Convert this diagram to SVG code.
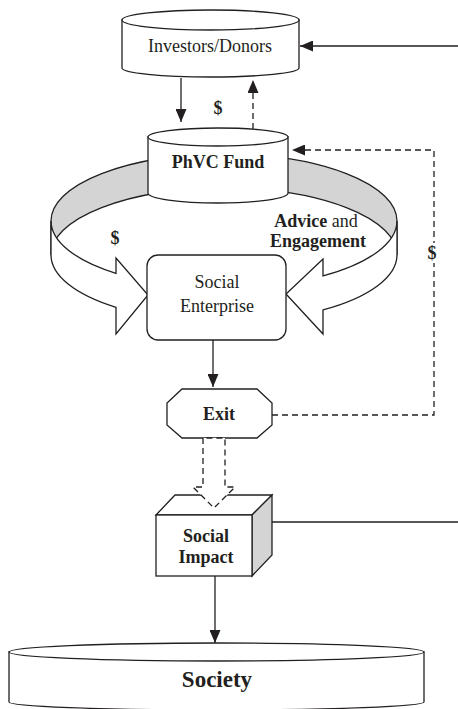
<svg xmlns="http://www.w3.org/2000/svg" width="458" height="709" viewBox="0 0 458 709">
<style>
.s{fill:#fff;stroke:#231f20;stroke-width:1.3}
.g{fill:#d4d4d4;stroke:#231f20;stroke-width:1.3}
.c{fill:none;stroke:#231f20;stroke-width:1.3}
.d{stroke-dasharray:6,4}
text{font-family:"Liberation Serif","Times New Roman",serif;font-size:18px;fill:#231f20;text-anchor:middle}
.b{font-weight:bold}
</style>
<defs>
<marker id="ah" markerUnits="userSpaceOnUse" markerWidth="14" markerHeight="11" refX="13" refY="5.5" orient="auto">
<path d="M0,0 L13,5.5 L0,11 Z" fill="#231f20"/>
</marker>
</defs>
<rect width="458" height="709" fill="#fff"/>

<g id="ribbon-back">
<path class="g" d="M51,221 A173,67 0 0 1 397,221 L397,255 A173,67 0 0 0 51,255 Z"/>
</g>

<g id="investors">
<path class="s" d="M122,20 V68 A88.5,9 0 0 0 299,68 V20 Z"/>
<ellipse class="s" cx="210.5" cy="20" rx="88.5" ry="10"/>
<text x="210" y="52">Investors/Donors</text>
</g>

<g id="phvc">
<path class="s" d="M148,137 V193 A70,10 0 0 0 288,193 V137 Z"/>
<ellipse class="s" cx="218" cy="137" rx="70" ry="9"/>
<text class="b" x="218" y="168">PhVC Fund</text>
</g>

<g id="ribbon-front">
<path class="s" d="M51,221 A173,67 0 0 0 116,273.3 L116,258 L148,295 L116,334 L116,307.3 A173,67 0 0 1 51,255 Z"/>
<path class="s" d="M397,221 A173,67 0 0 1 323,275.9 L323,259 L286,294 L323,334 L323,309.9 A173,67 0 0 0 397,255 Z"/>
</g>

<g id="social-enterprise">
<rect class="s" x="147" y="255" width="139" height="85" rx="11"/>
<text x="217" y="288">Social</text>
<text x="217" y="312">Enterprise</text>
</g>

<g id="exit">
<polygon class="s" points="182,389 257,389 272,403 272,425 257,438 182,438 167,425 167,403"/>
<text class="b" x="219" y="420">Exit</text>
</g>

<g id="social-impact">
<polygon class="s" points="156,515 175,495 272,495 252,515"/>
<polygon class="g" points="252,515 272,495 272,555 252,576"/>
<rect class="s" x="156" y="515" width="96" height="61"/>
<text class="b" x="206" y="542">Social</text>
<text class="b" x="206" y="563">Impact</text>
</g>

<g id="society">
<path class="s" d="M9,652 V702 A207.5,8 0 0 0 424,702 V652 Z"/>
<ellipse class="s" cx="216.5" cy="652" rx="207.5" ry="9"/>
<text class="b" x="217" y="687" style="font-size:23px">Society</text>
</g>

<g id="connectors">
<line class="c" x1="458" y1="46" x2="300" y2="46" marker-end="url(#ah)"/>
<line class="c" x1="181" y1="78" x2="181" y2="122" marker-end="url(#ah)"/>
<line class="c d" x1="253" y1="129" x2="253" y2="80" marker-end="url(#ah)"/>
<path class="c d" d="M272,415 H434 V150 H292" marker-end="url(#ah)"/>
<line class="c" x1="213" y1="340" x2="213" y2="387" marker-end="url(#ah)"/>
<polygon class="s d" points="203,438 203,487 193,487 214,508 235,487 225,487 225,438"/>
<line class="c" x1="272" y1="522" x2="458" y2="522"/>
<line class="c" x1="215" y1="576" x2="215" y2="643" marker-end="url(#ah)"/>
</g>

<g id="labels">
<text class="b" x="218" y="114">$</text>
<text class="b" x="115" y="244">$</text>
<rect x="427" y="243" width="11" height="20" fill="#fff"/>
<text class="b" x="432" y="259">$</text>
<text x="316" y="227"><tspan class="b">Advice</tspan> and</text>
<text class="b" x="318" y="247">Engagement</text>
</g>
</svg>
